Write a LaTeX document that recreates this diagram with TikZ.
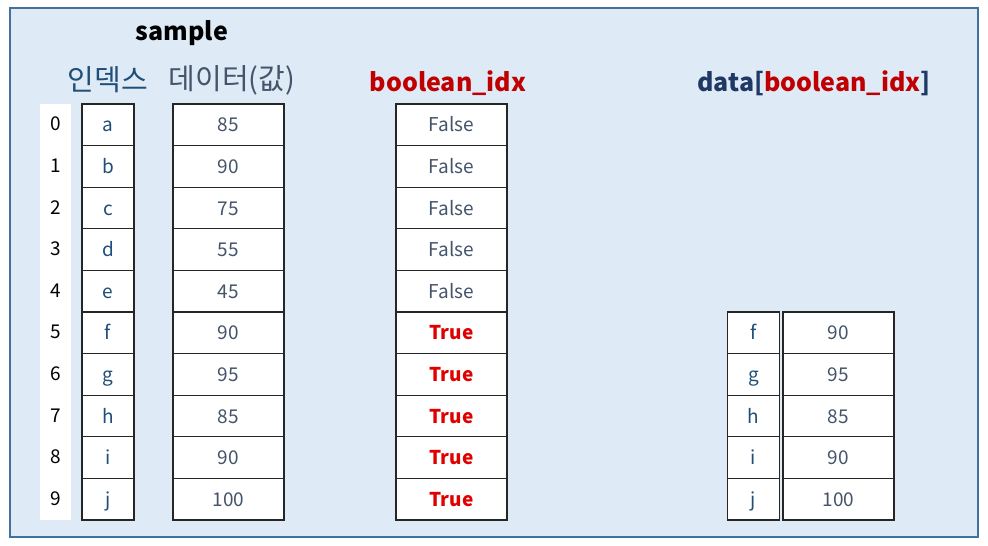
\documentclass[tikz,border=0pt]{standalone}
\usepackage{fontspec}
\setmainfont{Noto Sans CJK KR}
\definecolor{bgblue}{HTML}{DEEAF6}
\definecolor{frame}{HTML}{41719C}
\definecolor{idxblue}{HTML}{1F4E79}
\definecolor{valgray}{HTML}{44546A}
\definecolor{darkred}{HTML}{C00000}
\definecolor{navy}{HTML}{1F3864}
\definecolor{truered}{HTML}{E00000}
\tikzset{
  cell/.style={draw=black!85, line width=1.3pt, fill=white, minimum height=41.6pt, inner sep=0pt, text height=16pt, text depth=2pt, font=\fontsize{19}{22}\selectfont},
  idxcell/.style={cell, minimum width=52pt, text=idxblue},
  valcell/.style={cell, minimum width=111pt, text=valgray},
  numlab/.style={font=\fontsize{19}{22}\selectfont, text=black, inner sep=0pt, text height=16pt, text depth=2pt},
  head/.style={font=\fontsize{25}{30}\selectfont, inner sep=0pt},
  khead/.style={font=\fontsize{29}{34}\selectfont, inner sep=0pt},
}
\begin{document}
\begin{tikzpicture}[x=1pt,y=-1pt]
\useasboundingbox (0,0) rectangle (988,546);
\draw[frame, fill=bgblue, line width=1.8pt] (10,8) rectangle (978,537);
\fill[white] (40,104) rectangle (71,520);
\node[head, font=\fontsize{25}{30}\selectfont\bfseries] (tsample) at (182,33) {sample};
\node[khead, text=idxblue] (tidx) at (108,80) {인덱스};
\node[khead, text=valgray] (tval) at (232,80) {데이터(값)};
\node[head, font=\fontsize{25}{30}\selectfont\bfseries, text=darkred] (tbool) at (448,83) {boolean\_idx};
\node[head, font=\fontsize{25}{30}\selectfont\bfseries, text=navy] (tres) at (814,83) {data[\textcolor{darkred}{boolean\_idx}]};
\foreach \i/\l/\v in {0/a/85,1/b/90,2/c/75,3/d/55,4/e/45,5/f/90,6/g/95,7/h/85,8/i/90,9/j/100}{
  \node[numlab] (n\i) at (56,123.8+41.6*\i) {\i};
  \node[idxcell] (i\i) at (108,124.8+41.6*\i) {\l};
  \node[valcell] (v\i) at (228.5,124.8+41.6*\i) {\v};
}
\foreach \i in {0,...,4}{
  \node[valcell] (b\i) at (451.5,124.8+41.6*\i) {False};
}
\foreach \i in {5,...,9}{
  \node[valcell, text=truered, font=\fontsize{19}{22}\selectfont\bfseries] (b\i) at (451.5,124.8+41.6*\i) {True};
}
\foreach \i/\l/\v in {5/f/90,6/g/95,7/h/85,8/i/90,9/j/100}{
  \node[idxcell] (ri\i) at (753.5,124.8+41.6*\i) {\l};
  \node[valcell] (rv\i) at (838.5,124.8+41.6*\i) {\v};
}
\end{tikzpicture}
\end{document}
